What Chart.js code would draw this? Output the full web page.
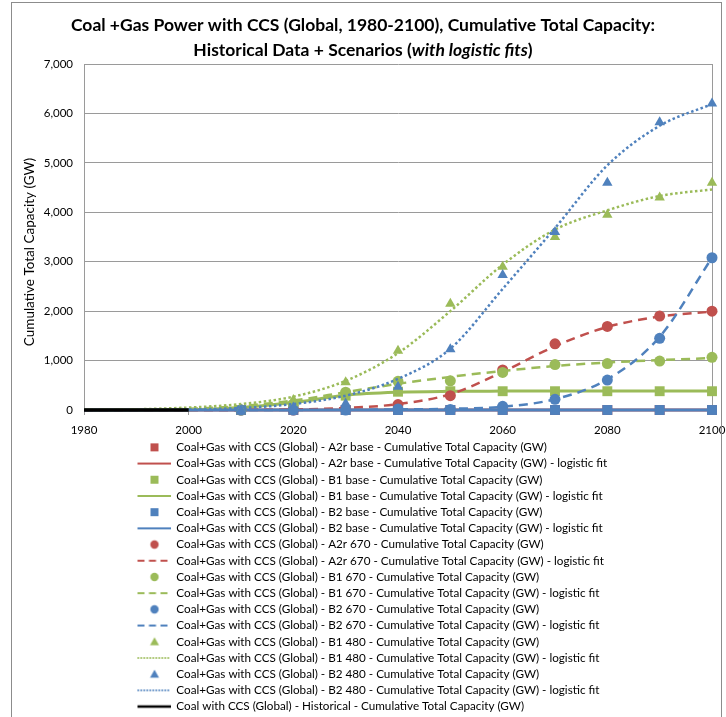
<!DOCTYPE html>
<html>
<head>
<meta charset="utf-8">
<script src="https://cdn.jsdelivr.net/npm/chart.js@4.4.0/dist/chart.umd.min.js"></script>
<style>
  html, body { margin: 0; padding: 0; background: #fff; }
  #wrap { width: 726px; height: 717px; }
</style>
</head>
<body>
<div id="wrap"><canvas id="ccsChart" width="726" height="717"></canvas></div>
<script>
// years
const markerYears = [2010, 2020, 2030, 2040, 2050, 2060, 2070, 2080, 2090, 2100];
const fitYears = [1980, 1990, 2000, 2010, 2020, 2030, 2040, 2050, 2060, 2070, 2080, 2090, 2100];
const histYears = [1980, 1990, 2000];

// cumulative total capacity (GW)
const a2rBase = [0, 0, 0, 0, 0, 0, 0, 0, 0, 0];
const a2rBaseFit = [0, 0, 0, 0, 0, 0, 0, 0, 0, 0, 0, 0, 0];
const b1Base = [0, 80, 290, 370, 380, 380, 380, 380, 380, 380];
const b1BaseFit = [0, 1, 5, 50, 150, 300, 360, 378, 382, 384, 385, 385, 385];
const b2Base = [0, 0, 0, 0, 0, 0, 0, 0, 0, 0];
const b2BaseFit = [0, 0, 0, 0, 0, 0, 0, 0, 0, 0, 0, 0, 0];
const a2r670 = [0, 0, 20, 110, 290, 810, 1340, 1690, 1900, 2000];
const a2r670Fit = [0, 0, 0, 2, 10, 40, 120, 320, 770, 1290, 1680, 1890, 1990];
const b1670 = [0, 120, 360, 580, 590, 760, 920, 940, 990, 1065];
const b1670Fit = [5, 10, 25, 80, 190, 360, 530, 670, 790, 890, 960, 1010, 1050];
const b2670 = [0, 0, 0, 20, 10, 75, 215, 605, 1450, 3080];
const b2670Fit = [0, 0, 0, 0, 2, 5, 12, 25, 65, 220, 620, 1480, 3080];
const b1480 = [0, 200, 560, 1200, 2150, 2900, 3500, 3950, 4300, 4600];
const b1480Fit = [5, 15, 50, 120, 270, 590, 1150, 2000, 2940, 3650, 4040, 4330, 4460];
const b2480 = [0, 50, 130, 470, 1230, 2730, 3600, 4600, 5820, 6200];
const b2480Fit = [0, 2, 12, 40, 120, 290, 630, 1240, 2450, 3680, 4950, 5750, 6190];
const coalHist = [0, 0, 0];

const RED = '#C0504D', GREEN = '#9BBB59', BLUE = '#4F81BD';
const DASH = [9, 6], DOT = [2.5, 2.5];
const pre = 'Coal+Gas with CCS (Global) - ';
const unit = ' - Cumulative Total Capacity (GW)';

function pts(xs, ys) {
  return xs.map((x, i) => ({ x: x, y: ys[i] }));
}

function markers(name, ys, color, style, r) {
  return {
    label: pre + name + unit, data: pts(markerYears, ys), showLine: false,
    pointStyle: style, pointRadius: r, pointHoverRadius: r,
    backgroundColor: color, borderColor: color, borderWidth: 0, clip: 8,
    glyph: style, glyphColor: color
  };
}

function fitLine(name, ys, color, dash) {
  return {
    label: pre + name + unit + ' - logistic fit', data: pts(fitYears, ys),
    borderColor: color, backgroundColor: color, borderWidth: dash.length ? 2.5 : 3, borderDash: dash,
    pointRadius: 0, cubicInterpolationMode: 'monotone', fill: false, clip: 4,
    glyph: 'line', glyphColor: color, glyphDash: dash
  };
}

const datasets = [
  markers('A2r base', a2rBase, RED, 'rect', 7),
  fitLine('A2r base', a2rBaseFit, RED, []),
  markers('B1 base', b1Base, GREEN, 'rect', 7),
  fitLine('B1 base', b1BaseFit, GREEN, []),
  markers('B2 base', b2Base, BLUE, 'rect', 7),
  fitLine('B2 base', b2BaseFit, BLUE, []),
  markers('A2r 670', a2r670, RED, 'circle', 5.5),
  fitLine('A2r 670', a2r670Fit, RED, DASH),
  markers('B1 670', b1670, GREEN, 'circle', 5.5),
  fitLine('B1 670', b1670Fit, GREEN, DASH),
  markers('B2 670', b2670, BLUE, 'circle', 5.5),
  fitLine('B2 670', b2670Fit, BLUE, DASH),
  markers('B1 480', b1480, GREEN, 'triangle', 6),
  fitLine('B1 480', b1480Fit, GREEN, DOT),
  markers('B2 480', b2480, BLUE, 'triangle', 6),
  fitLine('B2 480', b2480Fit, BLUE, DOT),
  {
    label: 'Coal with CCS (Global) - Historical' + unit, data: pts(histYears, coalHist),
    borderColor: '#000', backgroundColor: '#000', borderWidth: 3.5, pointRadius: 0, clip: 4,
    glyph: 'line', glyphColor: '#000', glyphDash: []
  }
];
// later series are painted on top, like the spreadsheet does
datasets.forEach((d, i) => { d.order = datasets.length - i; });

// legend symbol: marker or short line at the right end of a wide box
function legendGlyph(d) {
  const c = document.createElement('canvas');
  c.width = 154; c.height = 14;
  const g = c.getContext('2d');
  const cx = c.width - 16, cy = 7;
  g.fillStyle = d.glyphColor; g.strokeStyle = d.glyphColor;
  if (d.glyph === 'line') {
    const dash = d.glyphDash.length ? (d.glyphDash === DOT ? [1.5, 1.5] : [7, 4.5]) : [];
    g.lineWidth = d.glyphColor === '#000' ? 2.5 : 2;
    g.setLineDash(dash);
    g.beginPath(); g.moveTo(c.width - 33, cy); g.lineTo(c.width, cy); g.stroke();
  } else if (d.glyph === 'rect') {
    g.fillRect(cx - 4, cy - 4, 8, 8);
  } else if (d.glyph === 'circle') {
    g.beginPath(); g.arc(cx, cy, 4.2, 0, Math.PI * 2); g.fill();
  } else {
    g.beginPath(); g.moveTo(cx, cy - 4.5); g.lineTo(cx + 4.5, cy + 3.5); g.lineTo(cx - 4.5, cy + 3.5); g.closePath(); g.fill();
  }
  return c;
}

const frame = {
  id: 'frame',
  beforeDraw(chart) {
    const ctx = chart.ctx;
    ctx.save();
    ctx.fillStyle = '#fff';
    ctx.fillRect(0, 0, chart.width, chart.height);
    ctx.restore();
  },
  afterDraw(chart) {
    const ctx = chart.ctx;
    ctx.save();
    ctx.strokeStyle = '#8c8c8c';
    ctx.lineWidth = 1;
    ctx.strokeRect(11.5, 2.5, 710, 740);
    ctx.fillStyle = '#000';
    ctx.textBaseline = 'middle';

    // y axis title, sits a bit below the middle of the plot like the original
    ctx.save();
    ctx.translate(30, 252);
    ctx.rotate(-Math.PI / 2);
    ctx.font = '13.5px Lato';
    ctx.textAlign = 'center';
    ctx.fillText('Cumulative Total Capacity (GW)', 0, 0);
    ctx.restore();

    // two-line title, second line partly italic
    const cx = chart.width / 2;
    ctx.font = 'bold 17.5px Lato';
    ctx.textAlign = 'center';
    ctx.fillText('Coal +Gas Power with CCS (Global, 1980-2100), Cumulative Total Capacity:', cx, 25);
    const parts = [
      ['bold 17.5px Lato', 'Historical Data + Scenarios ('],
      ['italic bold 17.5px Lato', 'with logistic fits'],
      ['bold 17.5px Lato', ')']
    ];
    let total = 0;
    parts.forEach(p => { ctx.font = p[0]; total += ctx.measureText(p[1]).width; });
    let x = cx - total / 2;
    ctx.textAlign = 'left';
    parts.forEach(p => { ctx.font = p[0]; ctx.fillText(p[1], x, 50); x += ctx.measureText(p[1]).width; });
    ctx.restore();
  }
};

Chart.defaults.font.family = 'Lato';
Chart.defaults.color = '#000';

const ctx = document.getElementById('ccsChart').getContext('2d');
new Chart(ctx, {
  type: 'line',
  data: { datasets: datasets },
  plugins: [frame],
  options: {
    responsive: false,
    animation: false,
    locale: 'en-US',
    layout: { padding: { top: 64, left: 12, right: 0, bottom: 0 } },
    scales: {
      x: {
        type: 'linear',
        min: 1980,
        max: 2100,
        afterFit: (s) => { s.height = 27; s.paddingRight = 14; },
        ticks: { stepSize: 20, padding: 8, font: { size: 11.5 }, callback: (v) => String(v) },
        grid: {
          color: (c) => (c.tick && c.tick.value === 2100 ? '#9a9a9a' : 'rgba(0,0,0,0)'),
          tickColor: '#9a9a9a',
          tickLength: 5
        },
        border: { color: '#9a9a9a' }
      },
      y: {
        min: 0,
        max: 7000,
        afterFit: (s) => { s.width = 72; },
        ticks: { stepSize: 1000, padding: 11, font: { size: 11.5 } },
        grid: { color: '#9a9a9a', drawTicks: false },
        border: { color: '#9a9a9a' }
      }
    },
    plugins: {
      title: { display: false },
      tooltip: { enabled: false },
      legend: {
        position: 'bottom',
        align: 'start',
        maxHeight: 280,
        labels: {
          usePointStyle: true,
          pointStyleWidth: 154,
          padding: 4.5,
          font: { size: 11.7 },
          generateLabels: (chart) => chart.data.datasets.map((d, i) => ({
            text: d.label,
            pointStyle: legendGlyph(d),
            datasetIndex: i,
            hidden: false,
            lineWidth: 0,
            fillStyle: d.glyphColor,
            strokeStyle: d.glyphColor
          }))
        }
      }
    }
  }
});
</script>
</body>
</html>
